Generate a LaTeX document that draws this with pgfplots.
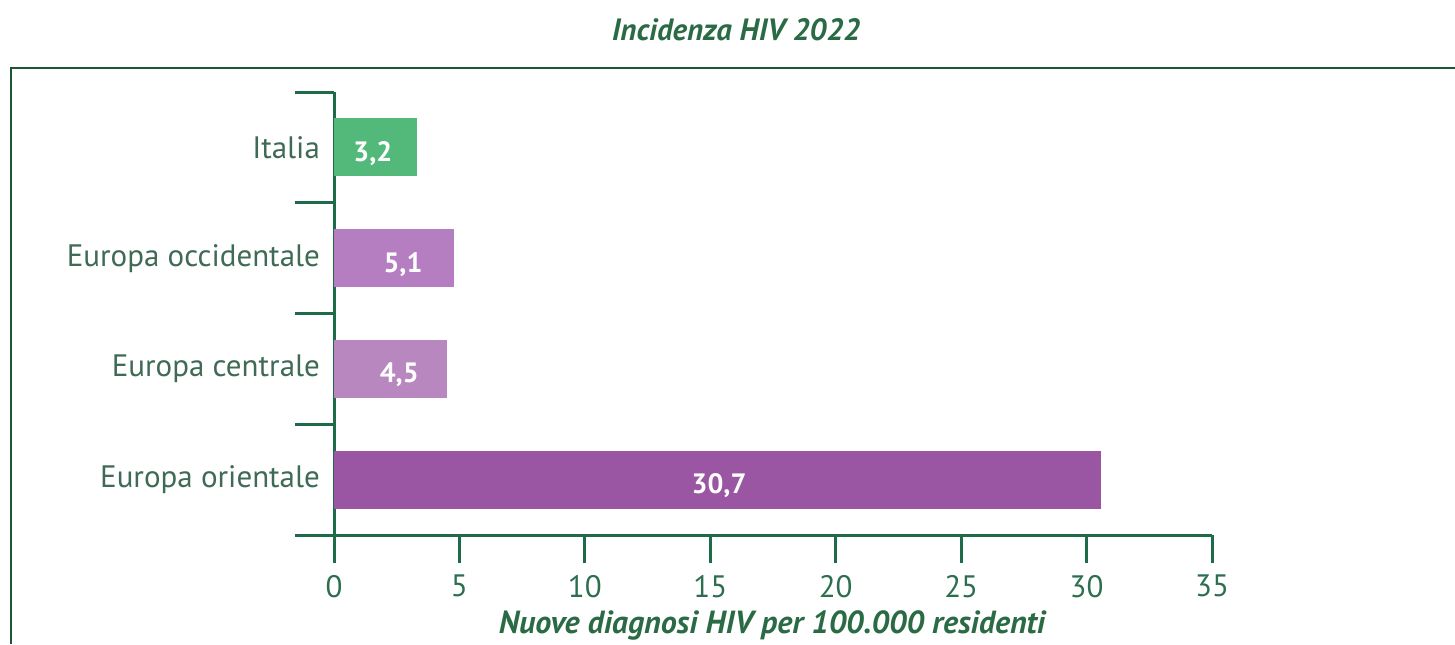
\documentclass[border=0pt]{standalone}
\usepackage{pgfplots}
\pgfplotsset{compat=1.18}
\usepackage{fontspec}
\setmainfont{PT Sans}
\definecolor{axgreen}{HTML}{1F6A48}
\definecolor{tickgreen}{HTML}{2E6E50}
\definecolor{catgreen}{HTML}{3F6A56}
\definecolor{titlegreen}{HTML}{2A6B45}
\definecolor{framegreen}{HTML}{1E5631}
\definecolor{itacol}{HTML}{52B97B}
\definecolor{occcol}{HTML}{B57EC0}
\definecolor{cencol}{HTML}{B887C0}
\definecolor{oricol}{HTML}{9A55A3}
\begin{document}
\begin{tikzpicture}
\useasboundingbox (0,0) rectangle (727.5pt,322pt);
\draw[framegreen, line width=1pt] (5.5pt,0) -- (5.5pt,288pt) -- (727.5pt,288pt);
\node[font=\bfseries\itshape\fontsize{15.4}{18}\selectfont, text=titlegreen] at (368pt,307pt) {Incidenza HIV 2022};
\node[font=\bfseries\itshape\fontsize{16}{18}\selectfont, text=titlegreen] at (386pt,9.5pt) {Nuove diagnosi HIV per 100.000 residenti};
\begin{axis}[
  at={(167pt,54.5pt)}, anchor=south west, scale only axis,
  width=439pt, height=221.5pt,
  xmin=0, xmax=35, ymin=-0.5, ymax=3.5,
  axis x line*=bottom, axis y line*=left,
  axis line style={-, axgreen, line width=1.5pt},
  tick align=outside,
  major tick length=19.5pt, minor tick length=14pt,
  xtick={0,5,...,35},
  minor xtick={0,5,...,35},
  every major x tick/.append style={draw=none},
  every minor x tick/.append style={axgreen, line width=1.5pt},
  every major y tick/.append style={axgreen, line width=1.5pt},
  ytick={-0.5,0.5,1.5,2.5,3.5},
  yticklabels={,Europa orientale,Europa centrale,Europa occidentale,Italia},
  yticklabel style={yshift=-27.7pt, xshift=16pt, font=\fontsize{15.5}{18}\selectfont, text=catgreen},
  /pgf/number format/assume math mode=true,
  xticklabel style={yshift=3pt, font=\fontsize{15.5}{18}\selectfont, text=tickgreen},
  clip=false,
]
\addplot[xbar, bar shift=0pt, bar width=29pt, fill=itacol, draw=none] coordinates {(3.31,3)};
\addplot[xbar, bar shift=0pt, bar width=29pt, fill=occcol, draw=none] coordinates {(4.78,2)};
\addplot[xbar, bar shift=0pt, bar width=29pt, fill=cencol, draw=none] coordinates {(4.50,1)};
\addplot[xbar, bar shift=0pt, bar width=29pt, fill=oricol, draw=none] coordinates {(30.57,0)};
\addplot[draw=none, mark=none, nodes near coords, point meta=explicit symbolic,
  every node near coord/.append style={anchor=center, yshift=-3pt, text=white, font=\bfseries\fontsize{14}{16}\selectfont}]
  table[x=x, y=y, meta=lab] {
x y lab
1.55 3 3,2
2.75 2 5,1
2.60 1 4,5
15.35 0 30,7
};
\end{axis}
\end{tikzpicture}
\end{document}
